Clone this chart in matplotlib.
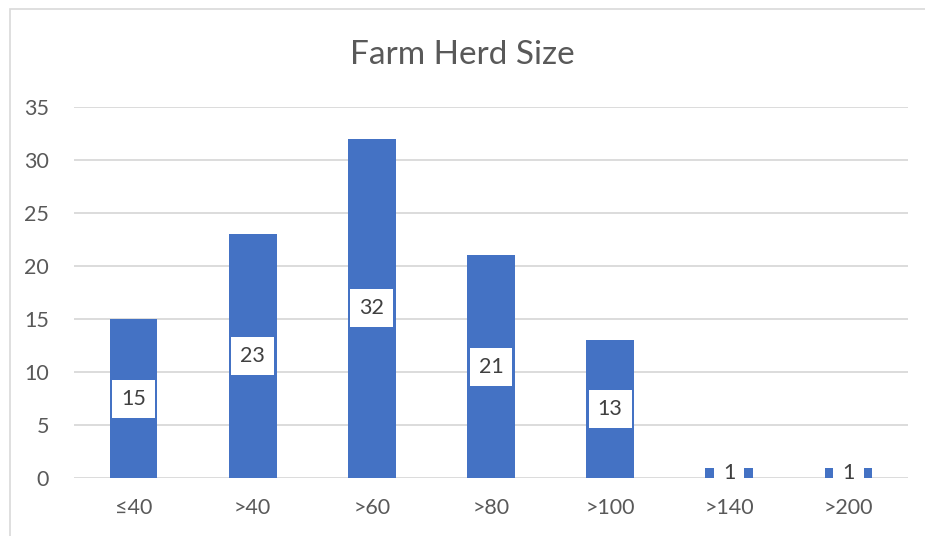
import matplotlib.pyplot as plt
from matplotlib.patches import Rectangle

# herd size bins and number of farms in each
categories = ['≤40', '>40', '>60', '>80', '>100', '>140', '>200']
farms = [15, 23, 32, 21, 13, 1, 1]
y_ticks = [0, 5, 10, 15, 20, 25, 30, 35]

bar_color = '#4472C4'
text_color = '#595959'
grid_color = '#D9D9D9'

plt.rcParams['font.family'] = ['Lato', 'DejaVu Sans']

fig = plt.figure(figsize=(9.25, 5.36), dpi=100)
ax = fig.add_axes([0.080, 0.108, 0.9016, 0.6924])

x = range(len(categories))
ax.bar(x, farms, width=0.4, color=bar_color, zorder=2)

# value labels in white boxes, centred in the bar
for i, v in enumerate(farms):
    ax.text(i, v / 2, str(v), ha='center', va='center', fontsize=15.5,
            color='#404040', zorder=3,
            bbox=dict(boxstyle='square,pad=0.42', fc='white', ec='none'))

ax.set_xlim(-0.5, len(categories) - 0.5)
ax.set_ylim(0, 35)
ax.set_yticks(y_ticks)
ax.set_xticks(list(x))
ax.set_xticklabels(categories)
ax.tick_params(axis='both', length=0, labelsize=15.5, labelcolor=text_color)
ax.tick_params(axis='y', pad=18)
ax.tick_params(axis='x', pad=14)
ax.yaxis.grid(True, color=grid_color, linewidth=1.3, zorder=0)
ax.set_axisbelow(True)
for s in ax.spines.values():
    s.set_visible(False)

fig.text(0.5, 0.897, 'Farm Herd Size', ha='center', va='center',
         fontsize=24, color=text_color)

# chart border
fig.patches.append(Rectangle((10 / 925, -0.01), 1.0, 1.0 - 9 / 536 + 0.01,
                             transform=fig.transFigure, fill=False,
                             ec='#D9D9D9', lw=1.2))

fig.savefig('out.png', dpi=100)
